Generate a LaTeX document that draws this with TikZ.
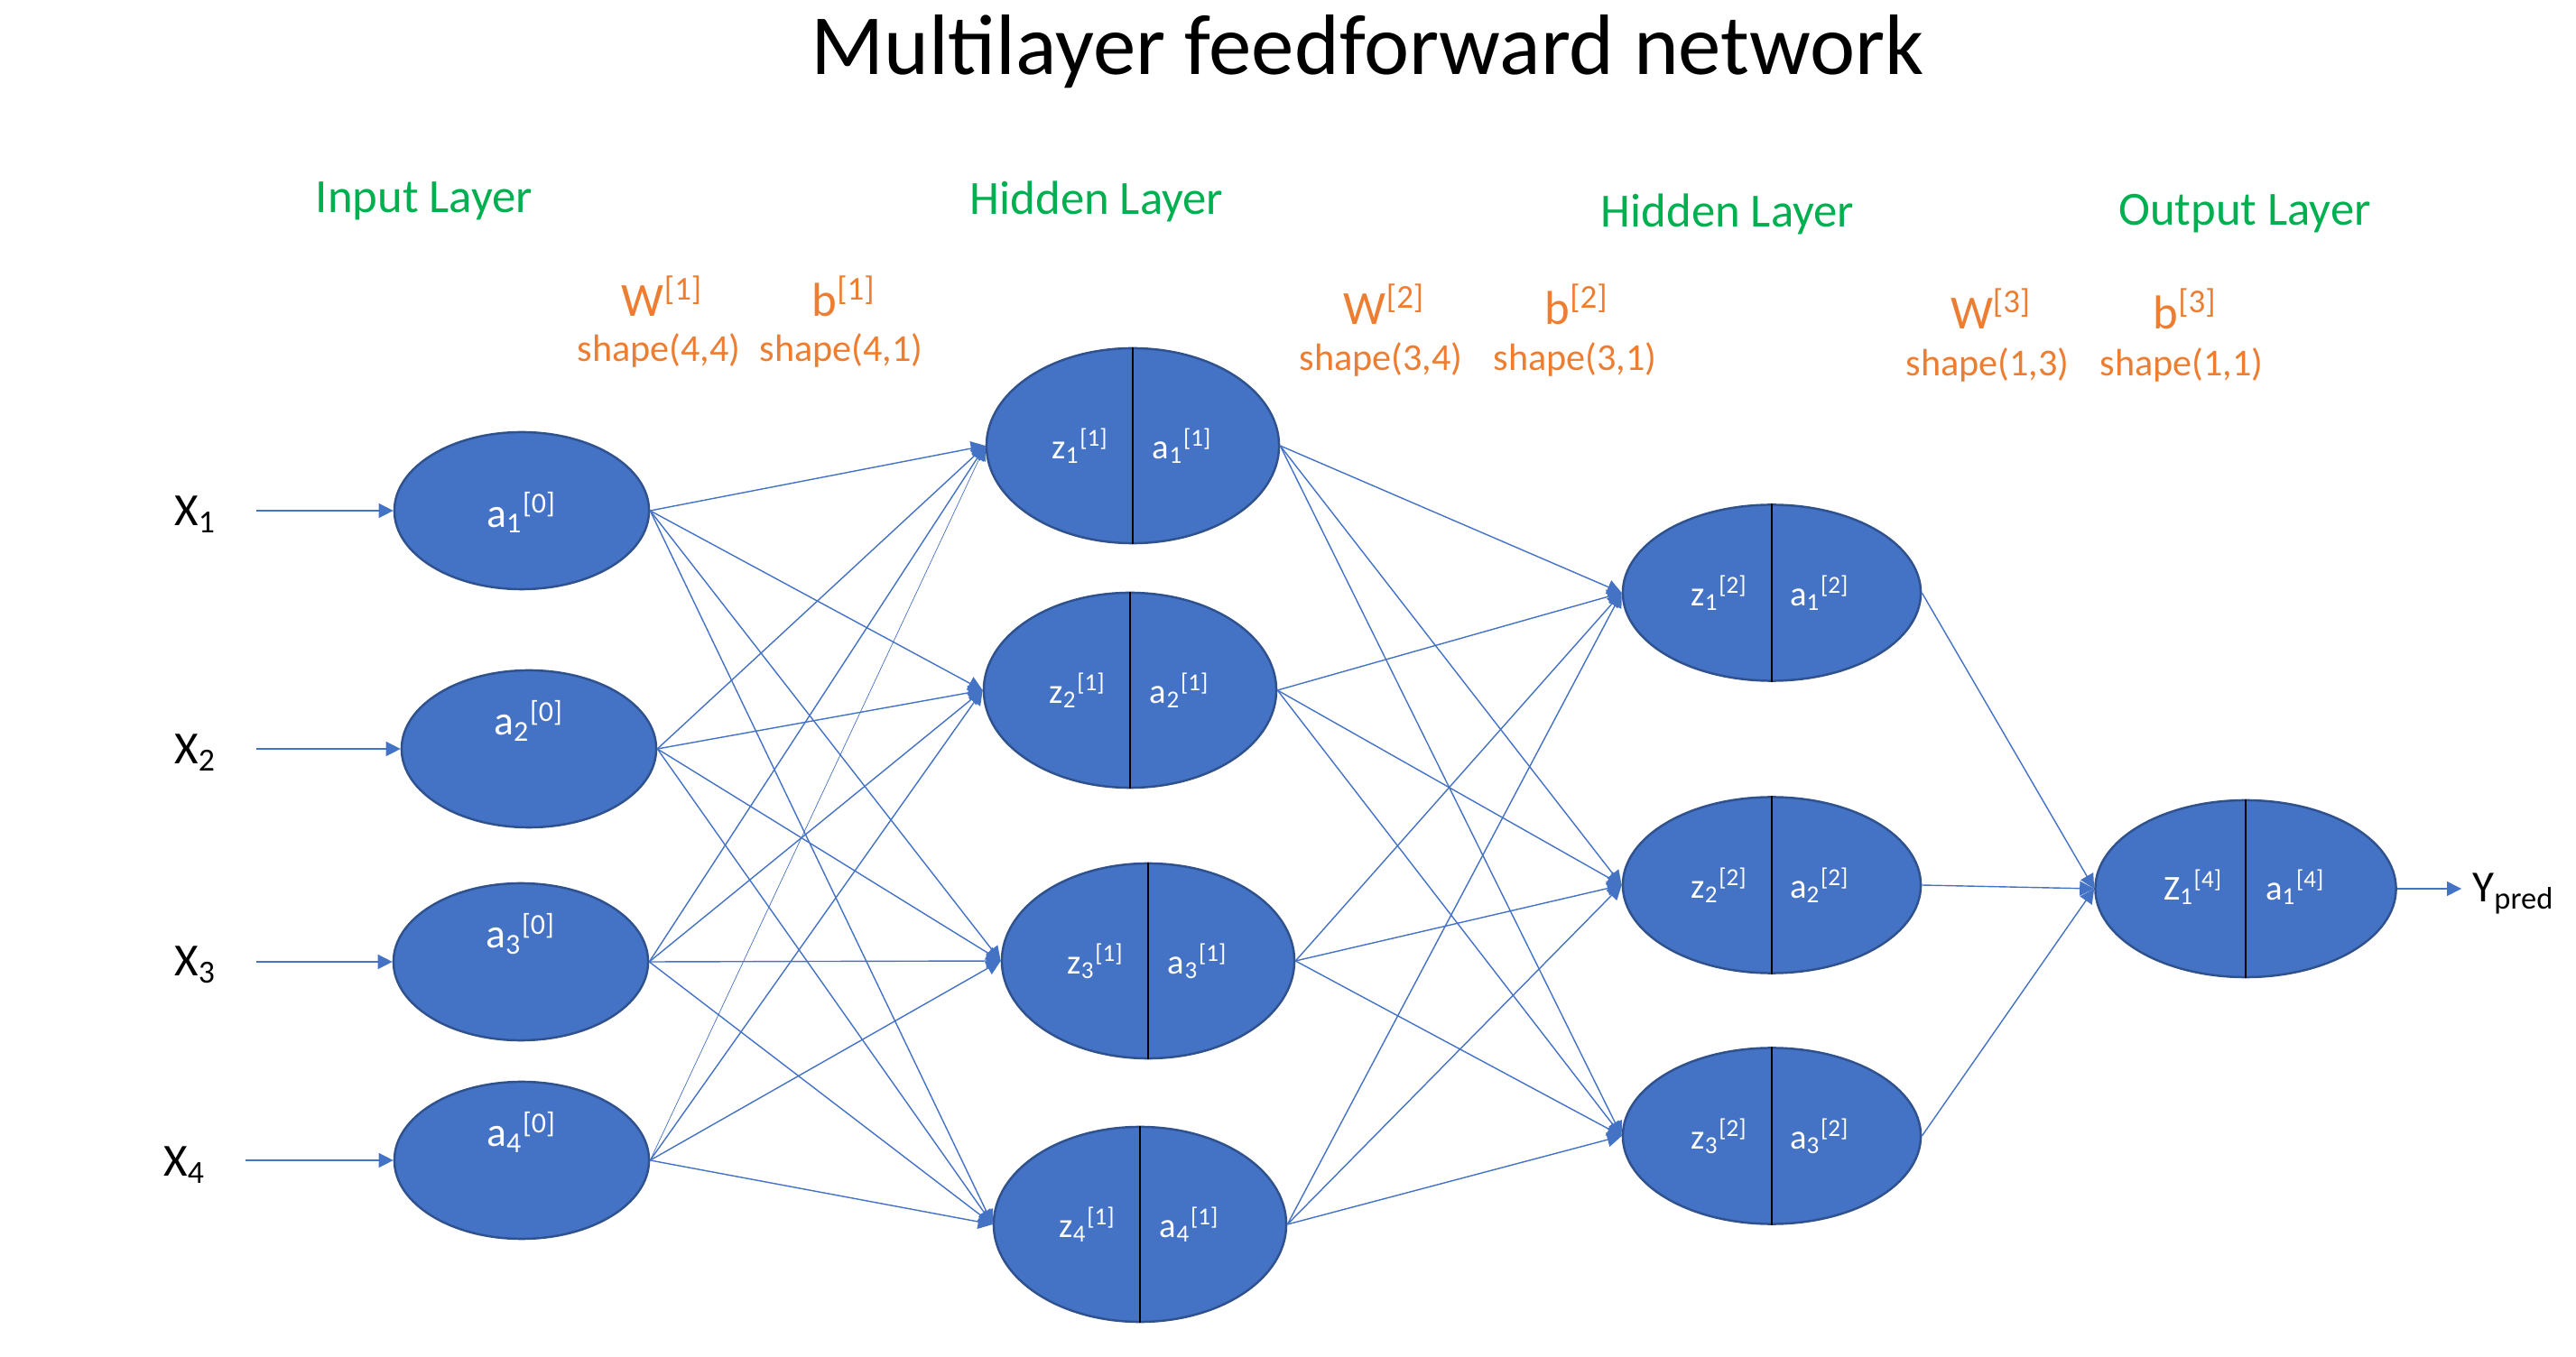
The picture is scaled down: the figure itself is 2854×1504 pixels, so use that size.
\documentclass[tikz,border=0pt]{standalone}
\usepackage{fontspec}
\setmainfont{Carlito}
\usetikzlibrary{shapes.geometric}
\usetikzlibrary{arrows.meta}
\definecolor{nblue}{RGB}{68,114,196}
\definecolor{nborder}{RGB}{47,82,143}
\definecolor{lgreen}{RGB}{0,176,80}
\definecolor{worange}{RGB}{237,125,49}
\newcommand{\nrn}[3]{#1\textsubscript{#2}\textsuperscript{[#3]}}

\begin{document}
\begin{tikzpicture}[x=0.01cm, y=-0.01cm,
    >={Triangle[length=0.16cm, width=0.16cm]},
    neuron/.style={ellipse, draw=nborder, line width=0.7pt, fill=nblue, inner sep=0pt},
    ntext/.style={anchor=base, text=white, font=\fontsize{13}{15}\selectfont},
    htext/.style={anchor=base, text=white, font=\fontsize{11}{13}\selectfont},
    layerlbl/.style={anchor=base, text=lgreen, font=\fontsize{15}{18}\selectfont},
    param/.style={anchor=base, text=worange, font=\fontsize{15}{18}\selectfont},
    dims/.style={anchor=base, text=worange, font=\fontsize{12}{14}\selectfont},
    inlbl/.style={anchor=base west, font=\fontsize{14.5}{17}\selectfont},
    conn/.style={->, nblue, line width=0.4pt},
    divider/.style={black, line width=0.6pt}]
    \useasboundingbox (0,0) rectangle (2854,1504);

    % titles %
    \node[anchor=base, font=\fontsize{27}{32}\selectfont] (title) at (1515,83) {Multilayer feedforward network};
    \node[layerlbl] (lin) at (470,236) {Input Layer};
    \node[layerlbl] (lhid1) at (1215,238) {Hidden Layer};
    \node[layerlbl] (lhid2) at (1914,252) {Hidden Layer};
    \node[layerlbl] (lout) at (2487,250) {Output Layer};

    % weights and biases %
    \node[param] (w1) at (734,351) {W\textsuperscript{[1]}};
    \node[param] (b1) at (935,351) {b\textsuperscript{[1]}};
    \node[dims] (w1s) at (730,401) {shape(4,4)};
    \node[dims] (b1s) at (932,401) {shape(4,1)};
    \node[param] (w2) at (1534,360) {W\textsuperscript{[2]}};
    \node[param] (b2) at (1747,360) {b\textsuperscript{[2]}};
    \node[dims] (w2s) at (1530,411) {shape(3,4)};
    \node[dims] (b2s) at (1745,411) {shape(3,1)};
    \node[param] (w3) at (2206,365) {W\textsuperscript{[3]}};
    \node[param] (b3) at (2421,365) {b\textsuperscript{[3]}};
    \node[dims] (w3s) at (2202,417) {shape(1,3)};
    \node[dims] (b3s) at (2417,417) {shape(1,1)};

    % input layer %
    \foreach \i/\x/\y/\s in {1/578/566/-0.18, 2/586/830/0.15, 3/577/1066/0.15, 4/578/1286/0.15}{
        \node[neuron, minimum width=2.82cm, minimum height=1.74cm] (in\i) at (\x,\y) {};
        \node[ntext] (ia\i) at ([yshift=\s cm]in\i.center) {\nrn{a}{\i}{0}};
    }
    \foreach \i/\x/\y/\s in {1/181/583/284, 2/181/847/284, 3/181/1082/284, 4/169/1304/272}{
        \node[inlbl] (x\i) at (\x,\y) {X\textsubscript{\i}};
        \coordinate (s\i) at (\s,0);
        \draw[conn] (s\i |- in\i.west) -- (in\i.west);
    }

    % first hidden layer %
    \foreach \i/\x/\y in {1/1255/494, 2/1252/765, 3/1272/1065, 4/1263/1357}{
        \node[neuron, minimum width=3.24cm, minimum height=2.16cm] (h\i) at (\x,\y) {};
        \draw[divider] (h\i.north) -- (h\i.south);
        \node[htext] (hz\i) at ([xshift=-0.58cm, yshift=-0.14cm]h\i.center) {\nrn{z}{\i}{1}};
        \node[htext] (ha\i) at ([xshift=0.55cm, yshift=-0.14cm]h\i.center) {\nrn{a}{\i}{1}};
    }

    % second hidden layer %
    \foreach \i/\y in {1/657, 2/981, 3/1259}{
        \node[neuron, minimum width=3.30cm, minimum height=1.95cm] (g\i) at (1963,\y) {};
        \draw[divider] (g\i.north) -- (g\i.south);
        \node[htext] (gz\i) at ([xshift=-0.58cm, yshift=-0.14cm]g\i.center) {\nrn{z}{\i}{2}};
        \node[htext] (ga\i) at ([xshift=0.53cm, yshift=-0.14cm]g\i.center) {\nrn{a}{\i}{2}};
    }

    % output layer %
    \node[neuron, minimum width=3.33cm, minimum height=1.96cm] (o1) at (2488,985) {};
    \draw[divider] (o1.north) -- (o1.south);
    \node[htext] (oz1) at ([xshift=-0.58cm, yshift=-0.12cm]o1.center) {\nrn{Z}{1}{4}};
    \node[htext] (oa1) at ([xshift=0.55cm, yshift=-0.12cm]o1.center) {\nrn{a}{1}{4}};
    \node[inlbl, font=\fontsize{14}{17}\selectfont] (ypred) at (2727,1000) {Y\textsubscript{pred}};

    % edges %
    \foreach \i in {1,...,4}
        \foreach \j in {1,...,4}{
            \ifnum\i\j=41 \draw[conn, line width=0.2pt] (in\i.east) -- (h\j.west);
            \else \draw[conn] (in\i.east) -- (h\j.west); \fi
        }
    \foreach \i in {1,...,4}
        \foreach \j in {1,...,3}
            \draw[conn] (h\i.east) -- (g\j.west);
    \foreach \j in {1,...,3}
        \draw[conn] (g\j.east) -- (o1.west);
    \draw[conn] (o1.east) -- (o1.east -| ypred.west);
\end{tikzpicture}
\end{document}
